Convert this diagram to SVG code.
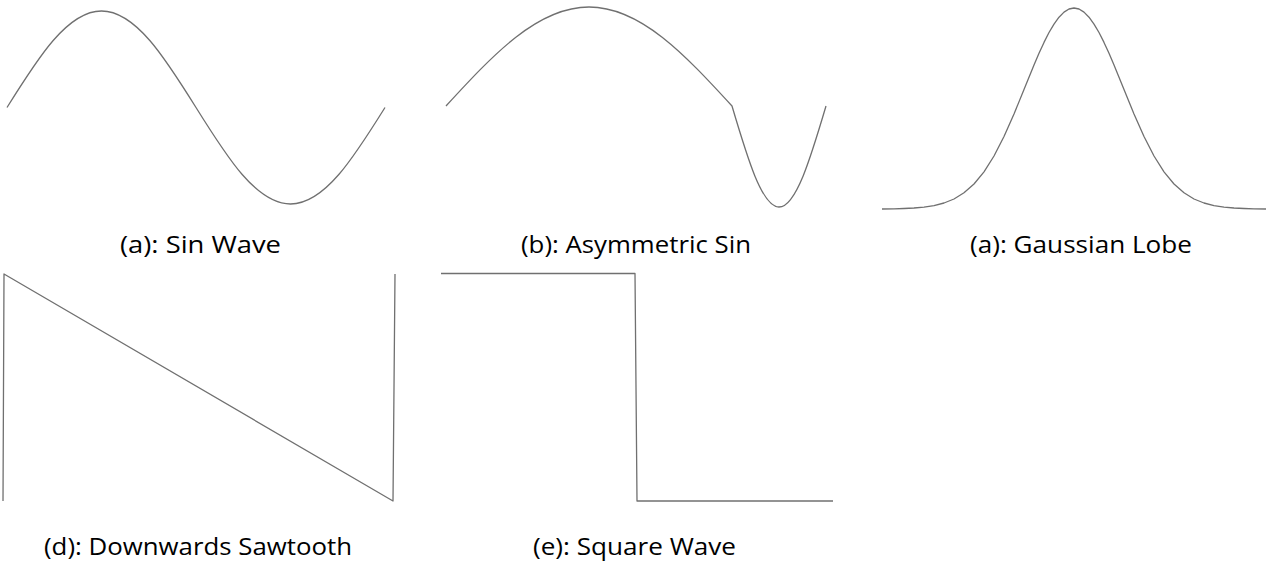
<svg xmlns="http://www.w3.org/2000/svg" width="1273" height="564" viewBox="0 0 1273 564">
<style>
.w{fill:none;stroke:#707070;stroke-width:1.3;stroke-linejoin:round;stroke-linecap:butt}
.t{font-family:"Open Sans","Liberation Sans",sans-serif;font-size:23px;fill:#000;text-anchor:start}
</style>
<rect width="1273" height="564" fill="#fff"/>
<g id="sin-wave">
<path class="w" d="M7,107.5 C37.8,58.1 67.3,11 101.5,11 C135.7,11 165.2,58.1 196,107.5 C226.8,156.9 256.3,204 290.5,204 C324.7,204 354.2,156.9 385,107.5"/>
<text class="t" x="120" y="253" textLength="161" lengthAdjust="spacingAndGlyphs">(a): Sin Wave</text>
</g>
<g id="asymmetric-sin">
<path class="w" d="M446,106 C492.6,55.3 537.2,7 589,7 C640.8,7 685.4,55.3 732,106 C747.3,157.7 762,207 779,207 C796,207 810.7,157.7 826,106"/>
<text class="t" x="521" y="253" textLength="230" lengthAdjust="spacingAndGlyphs">(b): Asymmetric Sin</text>
</g>
<g id="gaussian-lobe">
<polyline class="w" points="882,209 894,208.8 904,208.5 914,208 924,207.1 934,205.6 944,203 954,199 964,192.8 974,184 984,171.8 994,156 1004,136.5 1014,114 1024,89.6 1034,65 1039,53.3 1044,42.4 1049,32.5 1054,24.1 1059,17.2 1064,12.1 1069,9 1074,8 1079,9 1084,12.1 1089,17.2 1094,24.1 1099,32.5 1104,42.4 1109,53.3 1114,65 1124,89.6 1134,114 1144,136.5 1154,156 1164,171.8 1174,184 1184,192.8 1194,199 1204,203 1214,205.6 1224,207.1 1234,208 1244,208.5 1254,208.8 1266,209"/>
<text class="t" x="970" y="253" textLength="222" lengthAdjust="spacingAndGlyphs">(a): Gaussian Lobe</text>
</g>
<g id="downwards-sawtooth">
<polyline class="w" points="3,501 4,274 393,501 395,274"/>
<text class="t" x="44" y="555" textLength="308" lengthAdjust="spacingAndGlyphs">(d): Downwards Sawtooth</text>
</g>
<g id="square-wave">
<polyline class="w" points="441,273.5 635,273.5 637,501 833,501"/>
<text class="t" x="533" y="555" textLength="203" lengthAdjust="spacingAndGlyphs">(e): Square Wave</text>
</g>
<g id="connectors"></g>
</svg>
